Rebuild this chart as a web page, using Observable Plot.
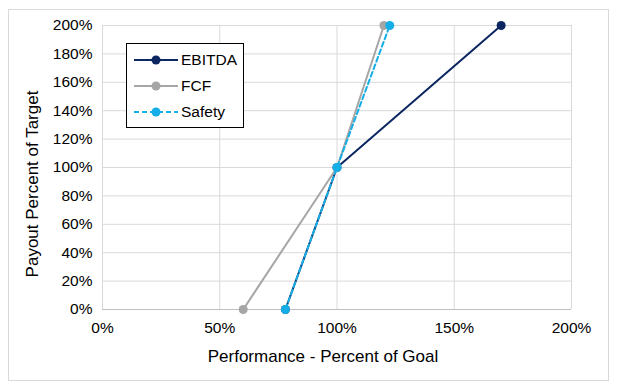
<!DOCTYPE html>
<html><head><meta charset="utf-8">
<script src="https://cdn.jsdelivr.net/npm/d3@7"></script>
<script src="https://cdn.jsdelivr.net/npm/@observablehq/plot@0.6"></script>
<style>
html,body{margin:0;padding:0;background:#fff;}
#wrap{position:relative;width:617px;height:390px;font-family:"Liberation Sans",Arial,sans-serif;}
#border{position:absolute;left:8px;top:9px;width:601px;height:372px;border:1px solid #d9d9d9;box-sizing:border-box;}
#legend{position:absolute;left:126px;top:43px;width:118px;height:85px;border:1px solid #000;box-sizing:border-box;background:#fff;font-size:15.5px;color:#000;}
.row{position:absolute;left:7px;height:20px;display:flex;align-items:center;}
.row svg{margin-right:3px;}
.title{position:absolute;font-size:17px;color:#000;white-space:nowrap;line-height:20px;}
#xt{left:323px;top:347px;transform:translateX(-50%);}
#yt{left:33px;top:184px;transform:translate(-50%,-50%) rotate(-90deg);}
</style></head>
<body><div id="wrap"><div id="border"></div><div id="chart"></div><div id="legend"></div>
<div class="title" id="xt"></div><div class="title" id="yt"></div></div>
<script>
const series = ["EBITDA", "FCF", "Safety"];
const colors = ["#0b2660", "#a6a6a6", "#16aee6"];
const dashes = [null, null, "5,3"];
const ebitdaX = [78, 100, 170];
const ebitdaY = [0, 100, 200];
const fcfX = [60, 100, 120];
const fcfY = [0, 100, 200];
const safetyX = [78, 100, 122.5];
const safetyY = [0, 100, 200];
const xTicks = [0, 50, 100, 150, 200];
const yTicks = [0, 20, 40, 60, 80, 100, 120, 140, 160, 180, 200];
const xTitle = "Performance - Percent of Goal";
const yTitle = "Payout Percent of Target";

const xs = [ebitdaX, fcfX, safetyX], ys = [ebitdaY, fcfY, safetyY];
const data = series.flatMap((s, i) => xs[i].map((x, j) => ({series: s, x, y: ys[i][j]})));

const marks = [
  Plot.gridX(xTicks, {stroke: "#d9d9d9", strokeOpacity: 1}),
  Plot.gridY(yTicks, {stroke: "#d9d9d9", strokeOpacity: 1}),
  Plot.ruleY([0], {stroke: "#bfbfbf"}),
  Plot.axisX(xTicks, {tickSize: 0, tickPadding: 12, tickFormat: d => d + "%", fontSize: 15.5, label: null}),
  Plot.axisY(yTicks, {tickSize: 0, tickPadding: 10, tickFormat: d => d + "%", fontSize: 15.5, label: null}),
];
series.forEach((s, i) => {
  const d = data.filter(r => r.series === s);
  marks.push(Plot.line(d, {x: "x", y: "y", stroke: colors[i], strokeWidth: 2, strokeDasharray: dashes[i]}));
  marks.push(Plot.dot(d, {x: "x", y: "y", fill: colors[i], r: 4.5}));
});

const chart = Plot.plot({
  width: 617, height: 390,
  marginLeft: 102, marginRight: 46, marginTop: 25, marginBottom: 81,
  x: {domain: [0, 200]},
  y: {domain: [0, 200]},
  style: {fontFamily: "'Liberation Sans', Arial, sans-serif", color: "#000", background: "transparent"},
  marks
});
chart.style.position = "absolute"; chart.style.left = "0"; chart.style.top = "0";
document.getElementById("chart").appendChild(chart);
document.getElementById("xt").textContent = xTitle;
document.getElementById("yt").textContent = yTitle;

const lg = document.getElementById("legend");
series.forEach((s, i) => {
  const row = document.createElement("div");
  row.className = "row";
  row.style.top = (6 + i * 26) + "px";
  row.innerHTML = `<svg width="44" height="12"><line x1="0" y1="6" x2="44" y2="6" stroke="${colors[i]}" stroke-width="2" ${dashes[i] ? `stroke-dasharray="${dashes[i]}"` : ""}/><circle cx="22" cy="6" r="4.5" fill="${colors[i]}"/></svg><span>${s}</span>`;
  lg.appendChild(row);
});
</script></body></html>
